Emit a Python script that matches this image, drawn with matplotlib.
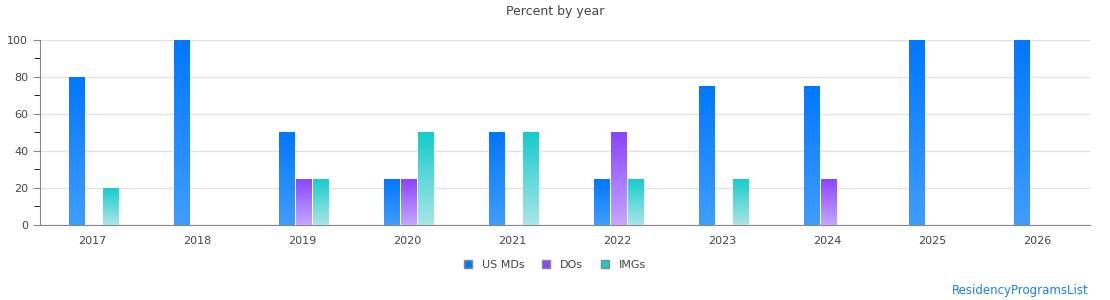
import matplotlib.pyplot as plt
import numpy as np
from matplotlib.colors import LinearSegmentedColormap
from matplotlib.patches import Patch

years = ['2017', '2018', '2019', '2020', '2021', '2022', '2023', '2024', '2025', '2026']
us_mds = [80, 100, 50, 25, 50, 25, 75, 75, 100, 100]
dos = [0, 0, 25, 25, 0, 50, 0, 25, 0, 0]
imgs = [20, 0, 25, 50, 50, 25, 25, 0, 0, 0]

series = [
    ('US MDs', us_mds, '#0077ff', '#409dff'),
    ('DOs', dos, '#8844ff', '#c6a6ff'),
    ('IMGs', imgs, '#14cccc', '#aae6e6'),
]

fig = plt.figure(figsize=(11.1, 3.0), dpi=100)
ax = fig.add_axes([0.036, 0.25, 0.946, 0.617])

x = np.arange(len(years))
w = 0.152
grad = np.linspace(1, 0, 256).reshape(-1, 1)

for i, (name, vals, top, bottom) in enumerate(series):
    cmap = LinearSegmentedColormap.from_list(name, [bottom, top])
    bars = ax.bar(x + 0.015 + (i - 1) * 0.162, vals, w, color='none', edgecolor='none', zorder=3)
    for b in bars:
        h = b.get_height()
        if h <= 0:
            continue
        x0 = b.get_x()
        im = ax.imshow(grad, cmap=cmap, aspect='auto', extent=[x0, x0 + w, 0, h],
                       zorder=3, interpolation='bilinear', vmin=0, vmax=1)
        im.set_clip_path(b)

ax.set_xlim(-0.5, len(years) - 0.5)
ax.set_ylim(0, 100)
ax.set_xticks(x)
ax.set_xticklabels(years)
ax.set_yticks([0, 20, 40, 60, 80, 100])
ax.set_yticks(np.arange(10, 100, 20), minor=True)
ax.yaxis.grid(True, color='#e2e2e2', linewidth=1, zorder=0)
ax.set_axisbelow(True)
for s in ['top', 'right']:
    ax.spines[s].set_visible(False)
for s in ['left', 'bottom']:
    ax.spines[s].set_color('#888888')
ax.tick_params(axis='both', colors='#888888', labelcolor='#444444', labelsize=8)
ax.tick_params(axis='x', length=0, pad=8)
ax.tick_params(axis='y', which='major', length=5)
ax.tick_params(axis='y', which='minor', length=4)

fig.text(0.5, 0.96, 'Percent by year', ha='center', va='center', fontsize=9, color='#444444')

handles = [Patch(facecolor=top, edgecolor='#888888', label=name) for name, _, top, _ in series]
fig.legend(handles=handles, loc='center', bbox_to_anchor=(0.5, 0.117), ncol=3, frameon=False,
           fontsize=8, handlelength=0.7, handleheight=0.7, columnspacing=1.6, handletextpad=0.9,
           labelcolor='#444444')

fig.text(0.981, 0.033, 'ResidencyProgramsList', ha='right', va='center', fontsize=8.5, color='#1a7fe8')

fig.savefig('out.png', dpi=100)
